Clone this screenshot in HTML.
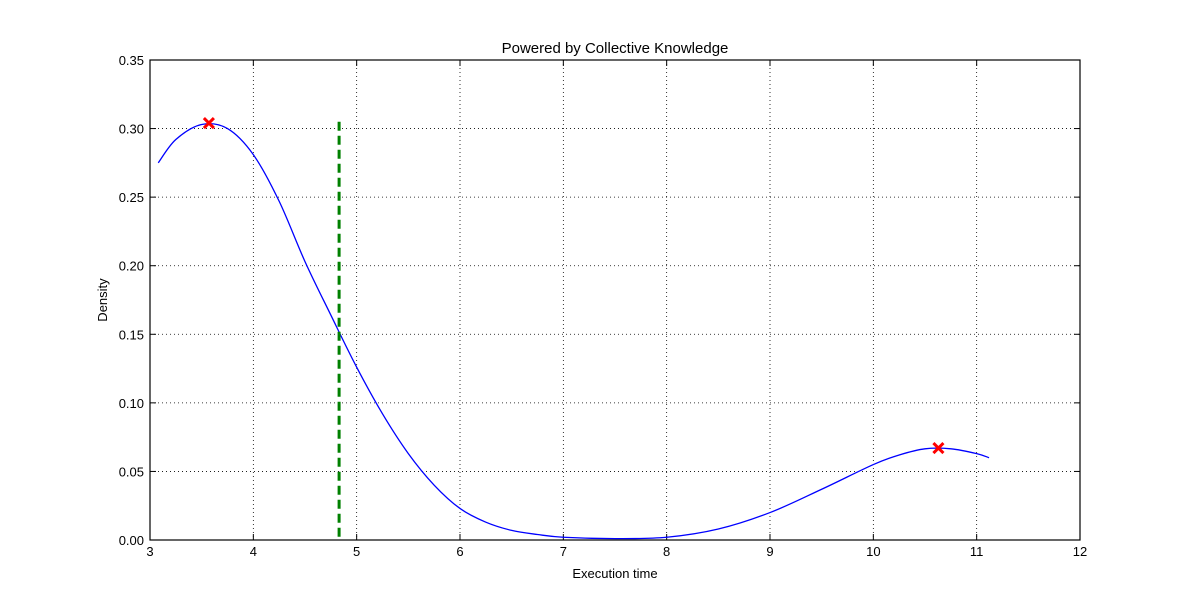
<!DOCTYPE html>
<html><head><meta charset="utf-8"><style>
body{margin:0;background:#fff;}
svg{display:block;font-family:"Liberation Sans",sans-serif;}
</style></head><body>
<svg width="1200" height="600">
<rect width="1200" height="600" fill="#fff"/>
<g id="grid"></g>
<g id="ticks"></g>
<path id="curve" fill="none" stroke="#0000ff" stroke-width="1.3"/>
<line id="vline" stroke="#008000" stroke-width="3" stroke-dasharray="9,5"/>
<g id="marks"></g>
<rect x="150" y="60" width="930" height="480" fill="none" stroke="#000" stroke-width="1.2"/>
<text x="615" y="53" text-anchor="middle" font-size="15">Powered by Collective Knowledge</text>
<text x="615" y="578" text-anchor="middle" font-size="13">Execution time</text>
<text x="107" y="300" text-anchor="middle" font-size="13" transform="rotate(-90 107 300)">Density</text>
</svg>
<script>
const xTicks=[3,4,5,6,7,8,9,10,11,12];
const yTicks=[0,0.05,0.10,0.15,0.20,0.25,0.30,0.35];
const yTickLabels=["0.00","0.05","0.10","0.15","0.20","0.25","0.30","0.35"];
const curveX=[3.08,3.25,3.5,3.75,4.0,4.25,4.5,4.75,5.0,5.25,5.5,5.75,6.0,6.25,6.5,6.75,7.0,7.5,8.0,8.5,9.0,9.5,10.0,10.25,10.5,10.75,11.0,11.12];
const curveY=[0.275,0.292,0.303,0.300,0.281,0.247,0.203,0.164,0.126,0.092,0.063,0.040,0.023,0.013,0.007,0.004,0.002,0.001,0.002,0.008,0.020,0.037,0.055,0.062,0.0665,0.0665,0.063,0.060];
const peakX=[3.57,10.63];
const peakY=[0.304,0.067];
const lineX=4.83, lineTop=0.305;
const NS="http://www.w3.org/2000/svg";
const sx=v=>150+(v-3)/9*930, sy=v=>540-v/0.35*480;
const grid=document.getElementById('grid'), ticks=document.getElementById('ticks');
function mk(tag,attrs,parent){const e=document.createElementNS(NS,tag);for(const k in attrs)e.setAttribute(k,attrs[k]);parent.appendChild(e);return e;}
xTicks.forEach(t=>{const x=sx(t);
 const g=mk('line',{x1:x,x2:x,y1:60,y2:540,stroke:'#000','stroke-width':0.8,'stroke-dasharray':'1,3'},grid);
 
 
 mk('line',{x1:x,x2:x,y1:540,y2:534,stroke:'#000'},ticks);mk('line',{x1:x,x2:x,y1:60,y2:66,stroke:'#000'},ticks);
 const l=mk('text',{x:x,y:556,'text-anchor':'middle','font-size':13},ticks);l.textContent=t;
 
 });
yTicks.forEach((t,i)=>{const y=sy(t);
 const g=mk('line',{x1:150,x2:1080,y1:y,y2:y,stroke:'#000','stroke-width':0.8,'stroke-dasharray':'1,3'},grid);
 
 
 mk('line',{x1:150,x2:156,y1:y,y2:y,stroke:'#000'},ticks);mk('line',{x1:1074,x2:1080,y1:y,y2:y,stroke:'#000'},ticks);
 const l=mk('text',{x:144,y:y+5,'text-anchor':'end','font-size':13},ticks);l.textContent=yTickLabels[i];
 
 });
const P=curveX.map((v,i)=>[sx(v),sy(curveY[i])]);
let d='M'+P[0][0]+','+P[0][1];
for(let i=0;i<P.length-1;i++){const p0=P[Math.max(0,i-1)],p1=P[i],p2=P[i+1],p3=P[Math.min(P.length-1,i+2)];
 d+=` C${p1[0]+(p2[0]-p0[0])/6},${p1[1]+(p2[1]-p0[1])/6} ${p2[0]-(p3[0]-p1[0])/6},${p2[1]-(p3[1]-p1[1])/6} ${p2[0]},${p2[1]}`;}
document.getElementById('curve').setAttribute('d',d);
const vl=document.getElementById('vline');
vl.setAttribute('x1',sx(lineX));vl.setAttribute('x2',sx(lineX));vl.setAttribute('y1',sy(lineTop));vl.setAttribute('y2',sy(0));
const marks=document.getElementById('marks');
peakX.forEach((v,i)=>{const x=sx(v),y=sy(peakY[i]);
 const g=mk('path',{d:`M${x-5},${y-5}L${x+5},${y+5}M${x-5},${y+5}L${x+5},${y-5}`,stroke:'#ff0000','stroke-width':3},marks);
 
 });
</script>
</body></html>
